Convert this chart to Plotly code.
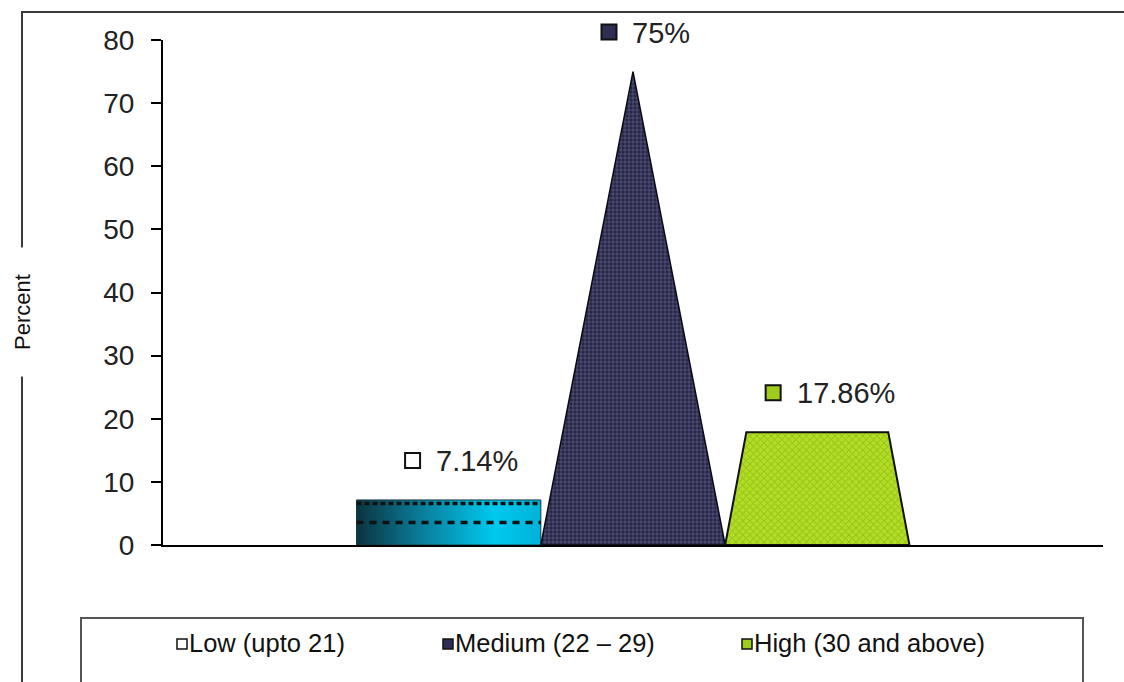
import plotly.graph_objects as go

# Blood-sugar groups and their share of respondents
categories = ["Low (upto 21)", "Medium (22 – 29)", "High (30 and above)"]
percent = [7.14, 75, 17.86]
value_labels = ["7.14%", "75%", "17.86%"]
y_ticks = [0, 10, 20, 30, 40, 50, 60, 70, 80]

# series positions along the single category slot
centers = [-1, 0, 1]
half_w = 0.5
X_RANGE = [-2.55, 2.55]
Y_RANGE = [0, 80]

FONT = "Liberation Sans, Arial, sans-serif"
W, H = 1124, 682
M_L, M_R, M_T, M_B = 163, 21, 40, 137
PW, PH = W - M_L - M_R, H - M_T - M_B


def px_x(px):
    return (px - M_L) / PW


def px_y(py):
    return (H - M_B - py) / PH


def data_to_paper_x(x):
    return (x - X_RANGE[0]) / (X_RANGE[1] - X_RANGE[0])


def data_to_paper_y(y):
    return (y - Y_RANGE[0]) / (Y_RANGE[1] - Y_RANGE[0])


fig = go.Figure()

# Low: flat cylinder seen from the front
lv = percent[0]
x0, x1 = centers[0] - half_w, centers[0] + half_w
fig.add_trace(go.Scatter(
    x=[x0, x0, x1, x1, x0], y=[0, lv, lv, 0, 0],
    mode="lines", fill="toself",
    fillgradient=dict(type="horizontal", colorscale=[
        [0.0, "#0b3440"], [0.35, "#0a7d9a"], [0.75, "#00c9ef"], [1.0, "#00b2d8"]]),
    line=dict(color="#1b3a44", width=1), hoverinfo="skip", showlegend=False))
fig.add_trace(go.Scatter(
    x=[x0, x1], y=[lv * 0.92, lv * 0.92], mode="lines",
    line=dict(color="#111", width=3.5, dash="5px,3px"), hoverinfo="skip", showlegend=False))
fig.add_trace(go.Scatter(
    x=[x0, x1], y=[lv * 0.5, lv * 0.5], mode="lines",
    line=dict(color="#111", width=3.5, dash="7px,6px"), hoverinfo="skip", showlegend=False))

# Medium: cone
mv = percent[1]
c = centers[1]
fig.add_trace(go.Scatter(
    x=[c - half_w, c, c + half_w, c - half_w], y=[0, mv, 0, 0],
    mode="lines", fill="toself", fillcolor="#33335a",
    fillpattern=dict(shape=".", fgcolor="#6a6aa6", bgcolor="#25253f", size=4, solidity=0.55),
    line=dict(color="#0a0a14", width=1.5), hoverinfo="skip", showlegend=False))

# High: truncated pyramid
hv = percent[2]
c = centers[2]
top_w = 0.385
fig.add_trace(go.Scatter(
    x=[c - half_w, c - top_w, c + top_w, c + half_w, c - half_w], y=[0, hv, hv, 0, 0],
    mode="lines", fill="toself", fillcolor="#a9d41c",
    fillpattern=dict(shape="x", fgcolor="#7ea40c", bgcolor="#b2de26", size=5, solidity=0.35),
    line=dict(color="#111", width=2), hoverinfo="skip", showlegend=False))

shapes = []
annotations = []

# value labels with a small key swatch in front of each
char_w = {".": 0.278, "%": 0.889}
label_size = 29
icon_fill = ["#ffffff", "#2e2e55", "#9fcc1a"]
for cx, v, txt, fill in zip(centers, percent, value_labels, icon_fill):
    tw = sum(char_w.get(ch, 0.556) for ch in txt) * label_size
    group = 15 + 14 + tw
    left = 12 - group / 2
    xp = data_to_paper_x(cx)
    yp = data_to_paper_y(v)
    shapes.append(dict(type="rect", xref="paper", yref="paper",
                       x0=xp + left / PW, x1=xp + (left + 15) / PW,
                       y0=yp + 32 / PH, y1=yp + 47 / PH,
                       fillcolor=fill, line=dict(color="#111", width=2)))
    annotations.append(dict(x=cx, y=v, xref="x", yref="y", text=txt, showarrow=False,
                            xanchor="left", yanchor="middle", xshift=left + 29, yshift=39,
                            font=dict(family=FONT, size=label_size, color="#222")))

# outer chart frame
shapes.append(dict(type="rect", xref="paper", yref="paper", layer="below",
                   x0=px_x(22), x1=px_x(1135), y0=px_y(695), y1=px_y(12),
                   line=dict(color="#3a3a3a", width=2), fillcolor="rgba(0,0,0,0)"))

# axis title sitting on the frame
annotations.append(dict(x=px_x(22), y=px_y(312), xref="paper", yref="paper", text="Percent",
                        textangle=-90, showarrow=False, bgcolor="white", borderpad=26,
                        xanchor="center", yanchor="middle",
                        font=dict(family=FONT, size=22, color="#111")))

# legend box
shapes.append(dict(type="rect", xref="paper", yref="paper",
                   x0=px_x(81), x1=px_x(1083), y0=px_y(700), y1=px_y(618),
                   line=dict(color="#555", width=2), fillcolor="white", layer="below"))
legend_icon_x = [177, 443, 742]
legend_fill = ["#ffffff", "#2e2e55", "#9fcc1a"]
for ix, name, fill in zip(legend_icon_x, categories, legend_fill):
    shapes.append(dict(type="rect", xref="paper", yref="paper",
                       x0=px_x(ix), x1=px_x(ix + 10), y0=px_y(649), y1=px_y(639),
                       fillcolor=fill, line=dict(color="#111", width=1.5)))
    annotations.append(dict(x=px_x(ix + 10), y=px_y(643), xref="paper", yref="paper",
                            text=name, showarrow=False, xanchor="left", yanchor="middle",
                            font=dict(family=FONT, size=25.5, color="#111")))

fig.update_layout(
    width=W, height=H,
    margin=dict(l=M_L, r=M_R, t=M_T, b=M_B, autoexpand=False),
    paper_bgcolor="white", plot_bgcolor="white",
    showlegend=False,
    shapes=shapes, annotations=annotations,
    xaxis=dict(range=X_RANGE, showgrid=False, zeroline=False, showticklabels=False,
               ticks="", showline=True, linecolor="#000", linewidth=2, fixedrange=True),
    yaxis=dict(range=Y_RANGE, tickvals=y_ticks, showgrid=False, zeroline=False,
               showline=True, linecolor="#000", linewidth=2, ticks="outside", ticklen=10,
               tickwidth=1.5, tickcolor="#000", ticklabelstandoff=11,
               tickfont=dict(family=FONT, size=28, color="#222"), fixedrange=True),
)

fig.write_html("out.html")
